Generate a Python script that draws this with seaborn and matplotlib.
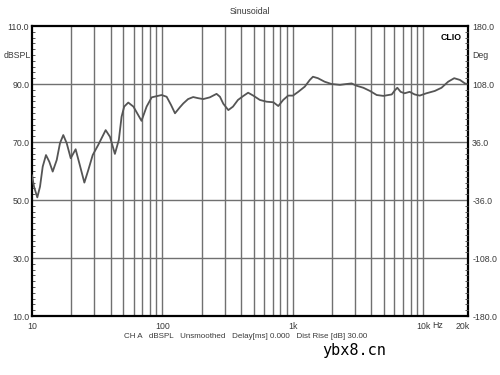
import matplotlib
matplotlib.use("Agg")
import matplotlib.pyplot as plt
import matplotlib.ticker as mticker
import seaborn as sns
import pandas as pd

# ---- data ----
freq_hz = [10, 10.36, 10.98, 11.52, 12.08, 12.8, 13.57, 14.41, 15.47, 16.39, 17.37,
           18.45, 19.81, 21.6, 23.05, 25.2, 27.0, 29.2, 32.2, 36.7, 39.6, 43.2,
           46.3, 48.6, 50.9, 54.7, 59.9, 69.1, 75.6, 82.7, 98.6, 107.7, 116.3,
           124.8, 136.2, 144.5, 157.2, 172, 188.2, 205.4, 230.8, 259.9, 276,
           292.7, 320, 347.3, 379.2, 414.6, 453.8, 496.7, 558.4, 628.9, 708.7,
           772.7, 842.9, 920, 1002, 1099, 1234, 1348, 1425, 1556, 1749, 1976,
           2294, 2580, 2820, 3080, 3470, 3900, 4390, 4940, 5730, 6070, 6320,
           6700, 7190, 7850, 8580, 9380, 10560, 12240, 13780, 15510, 17250,
           19080, 20830, 21600]
spl_db = [58.6, 54.6, 50.9, 54.6, 61.5, 65.5, 63.2, 59.8, 63.8, 69.6, 72.4,
          69.6, 64.4, 67.5, 62.7, 56.0, 60.3, 65.5, 69.0, 74.1, 71.8, 65.9,
          70.7, 78.7, 82.2, 83.6, 82.2, 77.3, 82.2, 85.4, 86.2, 85.6, 82.8,
          79.9, 82.0, 83.3, 84.8, 85.5, 85.1, 84.8, 85.4, 86.6, 85.6,
          83.2, 81.0, 82.2, 84.5, 85.8, 87.0, 86.0, 84.5, 83.9, 83.7,
          82.4, 84.5, 86.0, 86.0, 87.3, 89.1, 91.4, 92.5, 92.0, 90.8, 90.0,
          89.7, 90.0, 90.2, 89.4, 88.7, 87.6, 86.2, 85.9, 86.4, 87.9, 88.7,
          87.3, 86.8, 87.3, 86.4, 86.0, 86.8, 87.6, 88.7, 90.8, 92.0,
          91.4, 90.2, 90.0]

db_ticks = [10, 30, 50, 70, 90, 110]
deg_ticks = [-180, -108, -36, 36, 108, 180]
x_tick_vals = [10, 100, 1000, 10000, 20000]
x_tick_labels = ["10", "100", "1k", "10k", "20k"]
grid_freqs = [20, 30, 40, 50, 60, 70, 80, 90, 100, 200, 300, 400, 500, 600, 700,
              800, 900, 1000, 2000, 3000, 4000, 5000, 6000, 7000, 8000, 9000, 10000]
grid_db = [30, 50, 70, 90]

title_text = "Sinusoidal"
info_text = "CH A   dBSPL   Unsmoothed   Delay[ms] 0.000   Dist Rise [dB] 30.00"
watermark = "ybx8.cn"

# ---- style ----
sns.set_style("white")
plt.rcParams["font.family"] = ["Liberation Sans", "DejaVu Sans"]

txt_col = "#3a3a3a"
grid_col = "#707070"
fs = 6.3

fig = plt.figure(figsize=(5, 3.75), dpi=100)
ax = fig.add_axes([32 / 500, 1 - 316 / 375, 436 / 500, 290 / 375])

for g in grid_freqs:
    ax.axvline(g, color=grid_col, lw=1.0, zorder=1)
for g in grid_db:
    ax.axhline(g, color=grid_col, lw=1.0, zorder=1)

df = pd.DataFrame({"freq": freq_hz, "spl": spl_db})
sns.lineplot(data=df, x="freq", y="spl", ax=ax, color="#555555", lw=1.3,
             zorder=3, sort=False)

ax.set_xscale("log")
ax.set_xlim(10, 22000)
ax.set_ylim(10, 110)
ax.set_xlabel("")
ax.set_ylabel("")

ax.xaxis.set_major_locator(mticker.FixedLocator(x_tick_vals))
ax.xaxis.set_major_formatter(mticker.FixedFormatter(x_tick_labels))
ax.xaxis.set_minor_locator(mticker.NullLocator())
ax.set_yticks(db_ticks)
ax.set_yticklabels([f"{v:.1f}" for v in db_ticks])
ax.yaxis.set_minor_locator(mticker.MultipleLocator(2))
ax.tick_params(axis="x", which="both", length=0, labelsize=fs, colors=txt_col, pad=4)
ax.tick_params(axis="y", which="major", length=0, labelsize=fs, colors=txt_col, pad=2)
ax.tick_params(axis="y", which="minor", length=2, direction="in", width=0.7, color="#555555")

for s in ax.spines.values():
    s.set_color("black")
    s.set_linewidth(1.6)
    s.set_visible(True)

ax2 = ax.twinx()
ax2.set_ylim(-180, 180)
ax2.set_yticks(deg_ticks)
ax2.set_yticklabels([f"{v:.1f}" for v in deg_ticks])
ax2.yaxis.set_minor_locator(mticker.MultipleLocator(7.2))
ax2.tick_params(axis="y", which="major", length=0, labelsize=fs, colors=txt_col, pad=3)
ax2.tick_params(axis="y", which="minor", length=2, direction="in", width=0.7, color="#555555")
for s in ax2.spines.values():
    s.set_visible(False)

fig.text(250 / 500, 1 - 12 / 375, title_text, ha="center", va="center", fontsize=fs, color=txt_col)
fig.text(17 / 500, 1 - 56 / 375, "dBSPL", ha="center", va="center", fontsize=fs, color=txt_col)
fig.text(480 / 500, 1 - 56 / 375, "Deg", ha="center", va="center", fontsize=fs, color=txt_col)
ax.text(0.985, 0.975, "CLIO", transform=ax.transAxes, ha="right", va="top",
        fontsize=fs, fontweight="bold", color="black")
fig.text(438 / 500, 1 - 326 / 375, "Hz", ha="center", va="center", fontsize=fs, color=txt_col)
fig.text(246 / 500, 1 - 337 / 375, info_text, ha="center", va="center", fontsize=fs - 0.5, color=txt_col)
fig.text(322 / 500, 1 - 350 / 375, watermark, ha="left", va="center", fontsize=11,
         family="DejaVu Sans Mono", color="black")

fig.savefig("out.png", dpi=100)
